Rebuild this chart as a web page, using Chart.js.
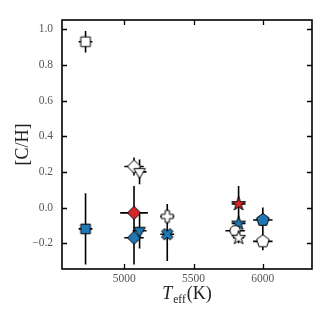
<!DOCTYPE html>
<html>
<head>
<meta charset="utf-8">
<script src="https://cdn.jsdelivr.net/npm/chart.js@4/dist/chart.umd.min.js"></script>
<style>
html,body{margin:0;padding:0;background:#fff;}
#wrap{width:332px;height:320px;}
</style>
</head>
<body>
<div id="wrap"><canvas id="c" width="332" height="320"></canvas></div>
<script>
// ---- data ----
const teff    = [4720, 4720, 5070, 5110, 5070, 5070, 5110, 5310, 5310, 5825, 5825, 5800, 5825, 6000, 6000];
const cOverH  = [0.93, -0.12, 0.23, 0.20, -0.03, -0.17, -0.13, -0.05, -0.15, 0.02, -0.09, -0.13, -0.17, -0.07, -0.19];
const teffErr = [50, 50, 70, 50, 100, 70, 50, 50, 50, 50, 50, 70, 40, 70, 70];
const chErr   = [0.06, 0.20, 0.05, 0.07, 0.15, 0.15, 0.10, 0.07, 0.15, 0.10, 0.03, 0.03, 0.03, 0.07, 0.05];
const markers = ['square','square','diamond','triDown','diamond','diamond','triDown','plus','xfill','star','star','circle','star','pentagon','pentagon'];
const fills   = ['open','blue','open','open','red','blue','blue','open','blue','red','blue','open','open','blue','open'];
const xTicks = [5000, 5500, 6000];
const xTickLabels = ['5000', '5500', '6000'];
const yTicks = [-0.2, 0.0, 0.2, 0.4, 0.6, 0.8, 1.0];
const yTickLabels = ['\u22120.2', '0.0', '0.2', '0.4', '0.6', '0.8', '1.0'];

const fillColors = {open: '#ffffff', blue: '#1f77b4', red: '#d62728'};
const serif = "'Liberation Serif', 'DejaVu Serif', serif";

function makeMarker(shape, fill) {
  const S = 20, c = document.createElement('canvas');
  c.width = S; c.height = S;
  const g = c.getContext('2d');
  const cx = S / 2, cy = S / 2;
  g.beginPath();
  const poly = pts => { pts.forEach((p, i) => i ? g.lineTo(cx + p[0], cy + p[1]) : g.moveTo(cx + p[0], cy + p[1])); g.closePath(); };
  if (shape === 'square') {
    g.rect(cx - 4.8, cy - 4.8, 9.6, 9.6);
  } else if (shape === 'diamond') {
    poly([[0, -6.6], [6.6, 0], [0, 6.6], [-6.6, 0]]);
  } else if (shape === 'triDown') {
    const r = 6.6;
    poly([[0, r], [-r * 0.866, -r / 2], [r * 0.866, -r / 2]]);
  } else if (shape === 'pentagon') {
    const r = 6.6, pts = [];
    for (let k = 0; k < 5; k++) { const a = -Math.PI / 2 + k * 2 * Math.PI / 5; pts.push([r * Math.cos(a), r * Math.sin(a)]); }
    poly(pts);
  } else if (shape === 'star') {
    const R = 7.4, ri = R * 0.382, pts = [];
    for (let k = 0; k < 10; k++) { const a = -Math.PI / 2 + k * Math.PI / 5; const rr = k % 2 ? ri : R; pts.push([rr * Math.cos(a), rr * Math.sin(a)]); }
    poly(pts);
  } else if (shape === 'circle') {
    g.arc(cx, cy, 5.2, 0, Math.PI * 2);
  } else if (shape === 'plus' || shape === 'xfill') {
    const h = 6, w = 2.1;
    let pts = [[-w, -h], [w, -h], [w, -w], [h, -w], [h, w], [w, w], [w, h], [-w, h], [-w, w], [-h, w], [-h, -w], [-w, -w]];
    if (shape === 'xfill') {
      const a = Math.PI / 4, ca = Math.cos(a), sa = Math.sin(a);
      pts = pts.map(p => [p[0] * ca - p[1] * sa, p[0] * sa + p[1] * ca]);
    }
    poly(pts);
  }
  g.fillStyle = fillColors[fill];
  g.fill();
  g.lineWidth = 1;
  g.strokeStyle = '#000';
  g.lineJoin = 'miter';
  g.stroke();
  return c;
}

const pointData = teff.map((t, i) => ({x: t, y: cOverH[i]}));
const pointStyles = markers.map((m, i) => makeMarker(m, fills[i]));

const errorBars = {
  id: 'errorBars',
  beforeDatasetsDraw(chart) {
    const {ctx, scales: {x, y}} = chart;
    ctx.save();
    ctx.strokeStyle = '#000';
    ctx.lineWidth = 1.6;
    ctx.beginPath();
    teff.forEach((t, i) => {
      const px = x.getPixelForValue(t), py = y.getPixelForValue(cOverH[i]);
      ctx.moveTo(x.getPixelForValue(t - teffErr[i]), py);
      ctx.lineTo(x.getPixelForValue(t + teffErr[i]), py);
      ctx.moveTo(px, y.getPixelForValue(cOverH[i] - chErr[i]));
      ctx.lineTo(px, y.getPixelForValue(cOverH[i] + chErr[i]));
    });
    ctx.stroke();
    ctx.restore();
  }
};

const frameTicks = {
  id: 'frameTicks',
  afterDraw(chart) {
    const {ctx, chartArea: a, scales: {x, y}} = chart;
    ctx.save();
    ctx.strokeStyle = '#000';
    ctx.lineWidth = 1.3;
    ctx.beginPath();
    const L = 5;
    yTicks.forEach(v => {
      const py = Math.round(y.getPixelForValue(v)) + 0.5;
      ctx.moveTo(a.left, py); ctx.lineTo(a.left + L, py);
      ctx.moveTo(a.right, py); ctx.lineTo(a.right - L, py);
    });
    xTicks.forEach(v => {
      const px = Math.round(x.getPixelForValue(v)) + 0.5;
      ctx.moveTo(px, a.bottom); ctx.lineTo(px, a.bottom - L);
      ctx.moveTo(px, a.top); ctx.lineTo(px, a.top + L);
    });
    ctx.stroke();
    ctx.lineWidth = 1.6;
    ctx.strokeRect(a.left, a.top, a.right - a.left, a.bottom - a.top);
    // x-axis title: T_eff(K)
    const big = 18, small = 11.5;
    const fBig = `italic ${big}px ${serif}`, fReg = `${big}px ${serif}`, fSmall = `${small}px ${serif}`;
    ctx.font = fBig; const wT = ctx.measureText('T').width;
    ctx.font = fSmall; const wE = ctx.measureText('eff').width;
    ctx.font = fReg; const wK = ctx.measureText('(K)').width;
    const total = wT + 1 + wE + 1 + wK;
    let sx = (a.left + a.right) / 2 - total / 2;
    const base = 299;
    ctx.fillStyle = '#222';
    ctx.textBaseline = 'alphabetic';
    ctx.textAlign = 'left';
    ctx.font = fBig; ctx.fillText('T', sx, base); sx += wT + 1;
    ctx.font = fSmall; ctx.fillText('eff', sx, base + 3.5); sx += wE + 1;
    ctx.font = fReg; ctx.fillText('(K)', sx, base);
    ctx.restore();
  }
};

new Chart(document.getElementById('c'), {
  type: 'scatter',
  data: {
    datasets: [{
      data: pointData,
      pointStyle: pointStyles,
      pointRadius: 6,
      pointHoverRadius: 6,
      borderColor: '#000',
      backgroundColor: '#fff'
    }]
  },
  options: {
    responsive: false,
    animation: false,
    layout: {padding: {top: 20, right: 20, left: 0, bottom: 0}},
    plugins: {legend: {display: false}, tooltip: {enabled: false}},
    scales: {
      x: {
        type: 'linear',
        min: 4550, max: 6355,
        afterFit(s) { s.height = 51; },
        afterBuildTicks(s) { s.ticks = xTicks.map(v => ({value: v})); },
        grid: {display: false, drawTicks: false},
        border: {display: false},
        ticks: {
          padding: 3,
          color: '#555',
          font: {family: serif, size: 11.5},
          maxRotation: 0,
          callback: (v) => { const i = xTicks.indexOf(v); return i >= 0 ? xTickLabels[i] : ''; }
        }
      },
      y: {
        type: 'linear',
        min: -0.345, max: 1.052,
        afterFit(s) { s.width = 62; },
        afterBuildTicks(s) { s.ticks = yTicks.map(v => ({value: v})); },
        grid: {display: false, drawTicks: false},
        border: {display: false},
        ticks: {
          padding: 9,
          color: '#555',
          font: {family: serif, size: 11.5},
          callback: (v) => { const i = yTicks.findIndex(t => Math.abs(t - v) < 1e-9); return i >= 0 ? yTickLabels[i] : ''; }
        },
        title: {
          display: true,
          text: '[C/H]',
          color: '#222',
          font: {family: serif, size: 18},
          padding: {top: 12, bottom: 0}
        }
      }
    }
  },
  plugins: [errorBars, frameTicks]
});
</script>
</body>
</html>
